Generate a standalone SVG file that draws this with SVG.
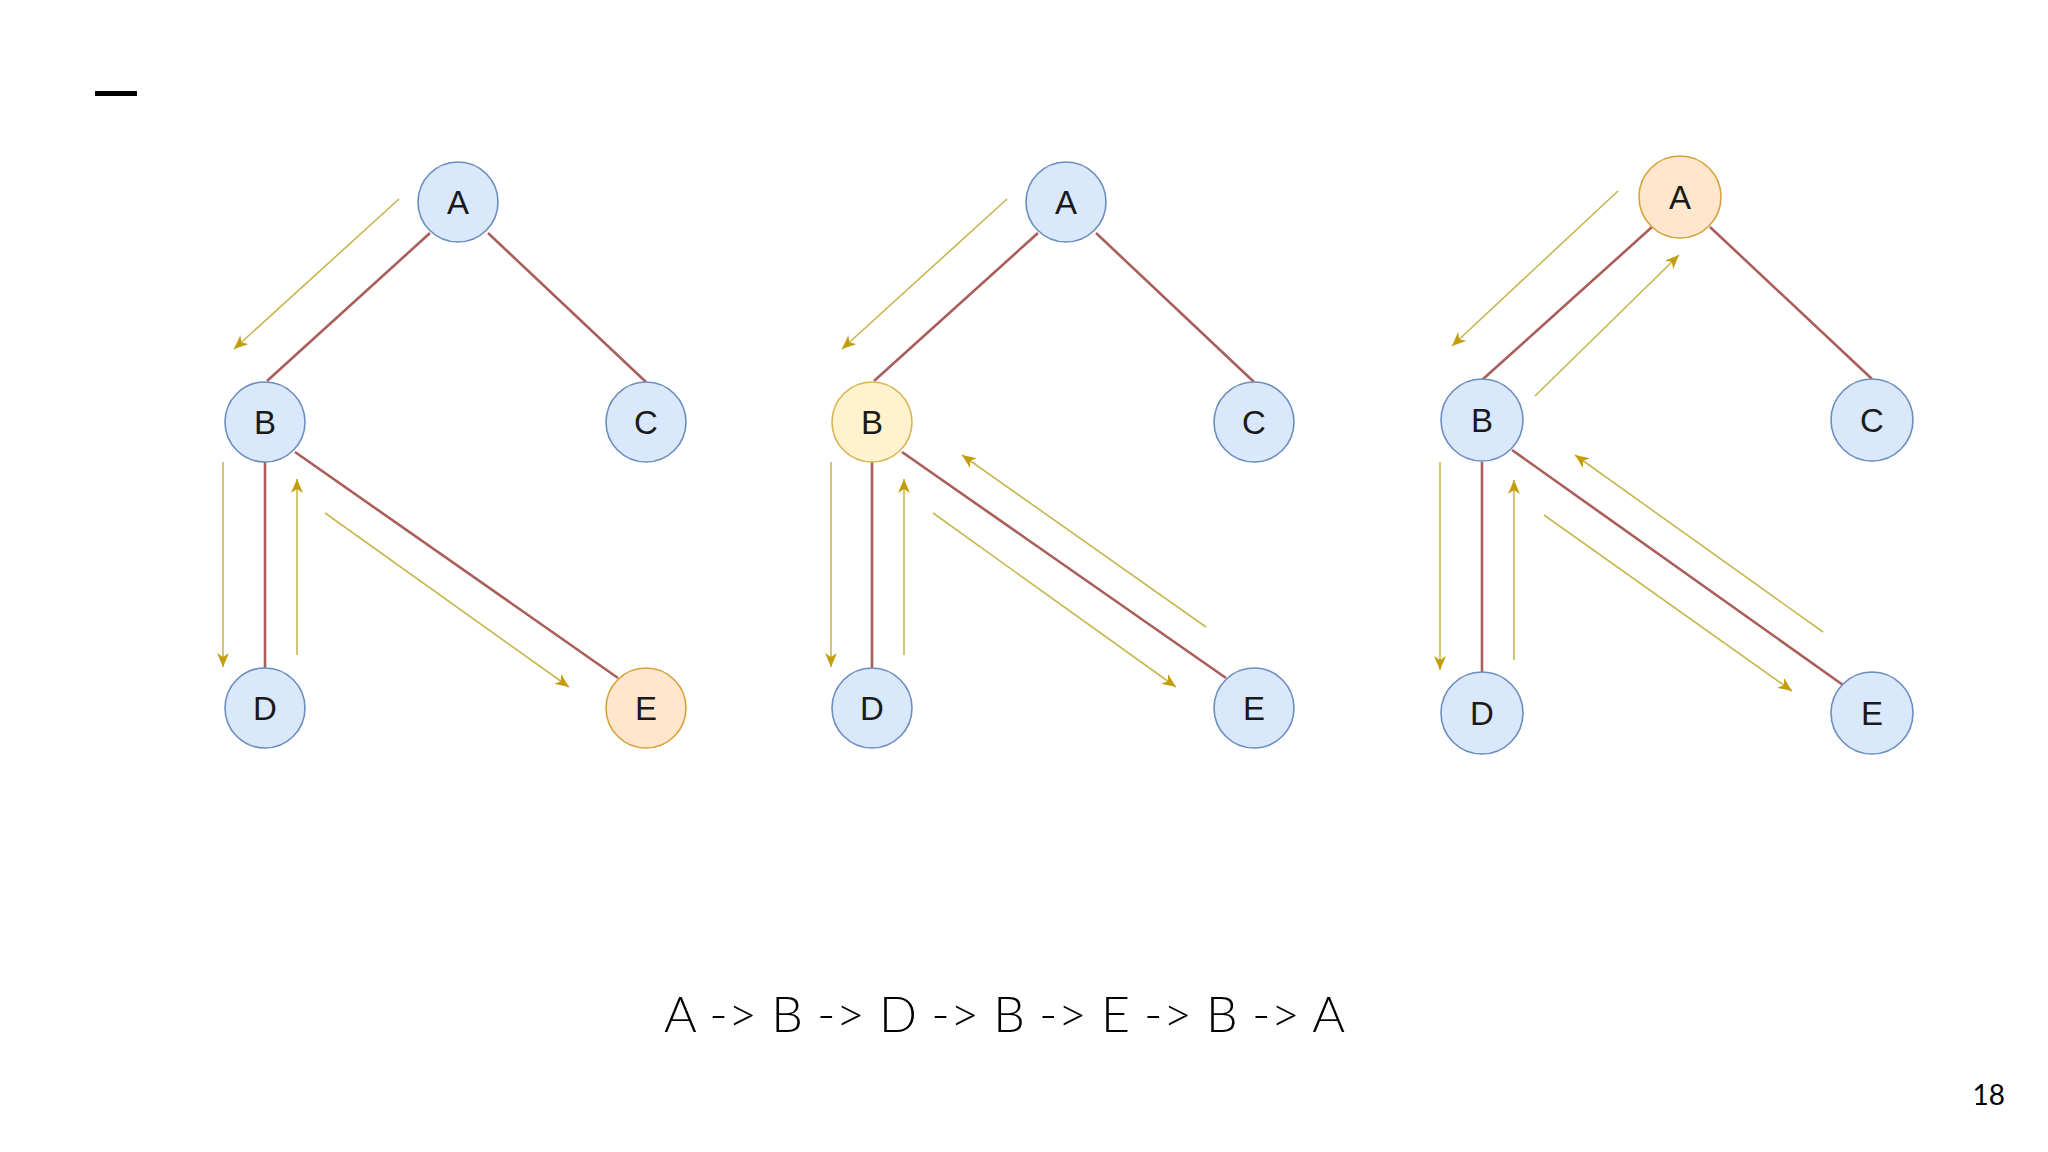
<svg xmlns="http://www.w3.org/2000/svg" width="2048" height="1152" viewBox="0 0 2048 1152">
<defs>
<marker id="ah" markerUnits="userSpaceOnUse" markerWidth="16" markerHeight="14" refX="14" refY="6" orient="auto">
<path d="M0,0 L14,6 L0,12 L4,6 Z" fill="#c29e0c"/>
</marker>
<style>
.n circle{fill:#dae8fc;stroke:#6c8ebf;stroke-width:1.6}
.n.o circle{fill:#ffe6cc;stroke:#d7a23a}
.n.y circle{fill:#fff2cc;stroke:#d6b656}
.n text{font-family:"Liberation Sans",Arial,sans-serif;font-size:33px;fill:#1a1a1a;text-anchor:middle}
.e line{stroke:#a95e5a;stroke-width:2.6}
.a line{stroke:#c8b64e;stroke-width:1.6;marker-end:url(#ah)}
</style>
</defs>
<rect width="2048" height="1152" fill="#ffffff"/>
<rect x="95" y="91" width="42" height="5" fill="#000000"/>

<g id="connectors">
<g class="e">
<line x1="430" y1="233" x2="267" y2="381"/>
<line x1="488" y1="233" x2="646" y2="382"/>
<line x1="265" y1="460" x2="265" y2="668"/>
<line x1="295" y1="452" x2="618" y2="678"/>
<line x1="1038" y1="233" x2="874" y2="381"/>
<line x1="1096" y1="233" x2="1254" y2="382"/>
<line x1="872" y1="460" x2="872" y2="668"/>
<line x1="902" y1="452" x2="1226" y2="678"/>
<line x1="1652" y1="227" x2="1482" y2="380"/>
<line x1="1710" y1="227" x2="1872" y2="379"/>
<line x1="1482" y1="462" x2="1482" y2="673"/>
<line x1="1512" y1="450" x2="1843" y2="685"/>
</g>
<g class="a">
<line x1="399" y1="199" x2="234" y2="349"/>
<line x1="223" y1="462" x2="223" y2="667"/>
<line x1="297" y1="655" x2="297" y2="479"/>
<line x1="325" y1="513" x2="569" y2="687"/>
<line x1="1007" y1="199" x2="842" y2="349"/>
<line x1="831" y1="462" x2="831" y2="667"/>
<line x1="904" y1="655" x2="904" y2="479"/>
<line x1="933" y1="513" x2="1176" y2="687"/>
<line x1="1206" y1="627" x2="962" y2="455"/>
<line x1="1618" y1="191" x2="1452" y2="346"/>
<line x1="1535" y1="396" x2="1679" y2="255"/>
<line x1="1440" y1="462" x2="1440" y2="670"/>
<line x1="1514" y1="660" x2="1514" y2="480"/>
<line x1="1544" y1="515" x2="1792" y2="691"/>
<line x1="1823" y1="632" x2="1575" y2="455"/>
</g>
</g>

<g id="t1-A" class="n"><circle cx="458" cy="202" r="40"/><text x="458" y="214">A</text></g>
<g id="t1-B" class="n"><circle cx="265" cy="422" r="40"/><text x="265" y="434">B</text></g>
<g id="t1-C" class="n"><circle cx="646" cy="422" r="40"/><text x="646" y="434">C</text></g>
<g id="t1-D" class="n"><circle cx="265" cy="708" r="40"/><text x="265" y="720">D</text></g>
<g id="t1-E" class="n o"><circle cx="646" cy="708" r="40"/><text x="646" y="720">E</text></g>

<g id="t2-A" class="n"><circle cx="1066" cy="202" r="40"/><text x="1066" y="214">A</text></g>
<g id="t2-B" class="n y"><circle cx="872" cy="422" r="40"/><text x="872" y="434">B</text></g>
<g id="t2-C" class="n"><circle cx="1254" cy="422" r="40"/><text x="1254" y="434">C</text></g>
<g id="t2-D" class="n"><circle cx="872" cy="708" r="40"/><text x="872" y="720">D</text></g>
<g id="t2-E" class="n"><circle cx="1254" cy="708" r="40"/><text x="1254" y="720">E</text></g>

<g id="t3-A" class="n o"><circle cx="1680" cy="197" r="41"/><text x="1680" y="209">A</text></g>
<g id="t3-B" class="n"><circle cx="1482" cy="420" r="41"/><text x="1482" y="432">B</text></g>
<g id="t3-C" class="n"><circle cx="1872" cy="420" r="41"/><text x="1872" y="432">C</text></g>
<g id="t3-D" class="n"><circle cx="1482" cy="713" r="41"/><text x="1482" y="725">D</text></g>
<g id="t3-E" class="n"><circle cx="1872" cy="713" r="41"/><text x="1872" y="725">E</text></g>

<text x="664" y="1032" font-family="Lato, 'Open Sans', sans-serif" font-weight="300" font-size="50" fill="#000000" textLength="681" lengthAdjust="spacing">A -&gt; B -&gt; D -&gt; B -&gt; E -&gt; B -&gt; A</text>
<text x="2005" y="1105" font-family="Lato, 'Open Sans', sans-serif" font-size="28" fill="#000000" text-anchor="end">18</text>
</svg>
